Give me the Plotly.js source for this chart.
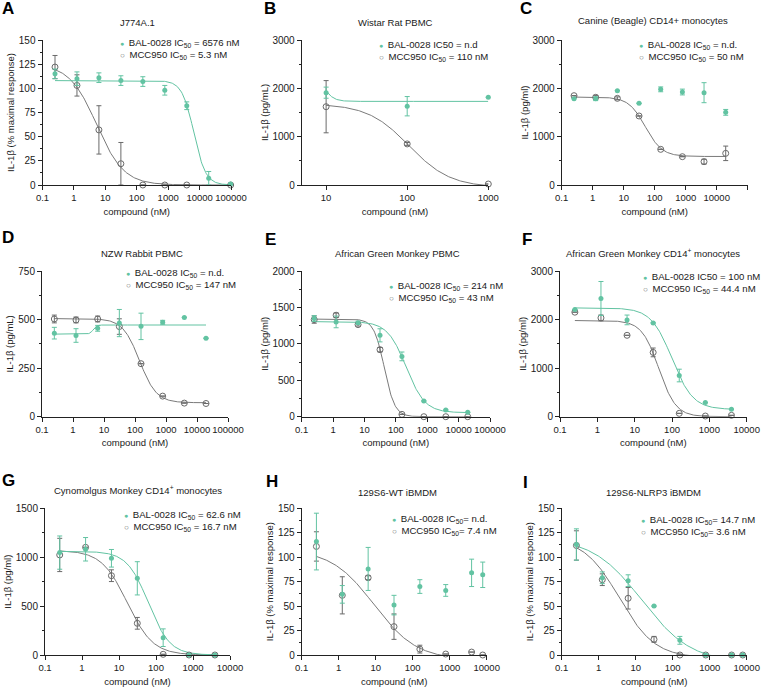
<!DOCTYPE html>
<html><head><meta charset="utf-8">
<script src="https://cdn.plot.ly/plotly-3.0.1.min.js"></script>
<style>html,body{margin:0;padding:0;background:#fff}#plot{width:763px;height:688px}</style>
</head><body><div id="plot"></div>
<script>
// ---------- DATA ----------
const xTickVals = [0.1, 1, 10, 100, 1000, 10000, 100000];
const xTickText = ["0.1", "1", "10", "100", "1000", "10000", "100000"];

// A  J774A.1
const doseA = [0.25, 1.25, 6.25, 31.25, 156.25, 781.25, 3906.25, 19531.25, 97656.25];
const balA = [115, 110, 111, 108, 107, 98, 82, 7, 1];
const balErrA = [5, 7, 5, 5, 5, 5, 4, 7, 1];
const mccA = [122, 103, 57, 22, 0, 0, 0, null, 0];
const mccErrA = [12, 11, 25, 22, null, null, null, null, null];
const fitBalA = [108, 0, 6576, 2.3];   // top, bottom, IC50, hill
const fitMccA = [125, 0, 5.3, 1.0];

// B  Wistar Rat PBMC
const doseB = [10, 100, 1000];
const balB = [1910, 1630, 1815];
const balErrB = [115, 200, null];
const mccB = [1620, 850, 20];
const mccErrB = [540, 30, null];
const fitBalB = [2400, 1730, 9, 6.8];
const fitMccB = [1680, -50, 105, 1.7];

// C  Canine (Beagle) CD14+ monocytes
const doseC = [0.25, 1.25, 6.25, 31.25, 156.25, 781.25, 3906.25, 19531.25];
const balC = [1786, 1786, 1952, 1690, 1979, 1924, 1910, 1503];
const balErrC = [null, 40, null, null, 50, 60, 207, 60];
const mccC = [1848, 1814, 1793, 1428, 738, 586, 483, 655];
const mccErrC = [null, 40, 30, null, null, null, 50, 150];
const fitBalC = null;
const fitMccC = [1820, 590, 50, 1.61];

// D  NZW Rabbit PBMC
const doseD = [0.25, 1.25, 6.25, 31.25, 156.25, 781.25, 3906.25, 19531.25];
const balD = [430, 418, 455, 482, 465, 486, 511, 404];
const balErrD = [30, 35, 15, 70, 68, 10, null, null];
const mccD = [503, 498, 503, 464, 273, 106, 70, 68];
const mccErrD = [20, 15, 15, 40, null, null, null, null];
const fitBalD = [425, 472, 4.5, 8];
const fitMccD = [505, 72, 140, 1.6];

// E  African Green Monkey PBMC
const doseE = [0.25, 1.25, 6.25, 31.25, 156.25, 781.25, 3906.25, 19531.25];
const balE = [1347, 1301, 1290, 1117, 828, 216, 92, 60];
const balErrE = [40, 80, 20, 90, 60, null, null, null];
const mccE = [1333, 1393, 1264, 920, 32, 0, 0, 0];
const mccErrE = [50, 30, 20, 30, null, null, null, null];
const fitBalE = [1305, 55, 214, 1.45];
const fitMccE = [1340, 0, 43, 2.6];

// F  African Green Monkey CD14+ monocytes
const doseF = [0.25, 1.25, 6.25, 31.25, 156.25, 781.25, 3906.25];
const balF = [2207, 2434, 1993, 1931, 848, 290, 152];
const balErrF = [null, 350, 100, null, 130, null, null];
const mccF = [2152, 2034, 1676, 1324, 69, 14, 28];
const mccErrF = [null, 60, null, 90, null, null, null];
const fitBalF = [2240, 150, 100, 1.55];
const fitMccF = [1980, 0, 44.4, 1.9];

// G  Cynomolgus Monkey CD14+ monocytes
const doseG = [0.25, 1.25, 6.25, 31.25, 156.25, 781.25, 3906.25];
const balG = [1047, 1081, 989, 784, 177, 0, 0];
const balErrG = [170, 120, 90, 170, 90, null, null];
const mccG = [1023, 1101, 811, 324, 7, 0, 0];
const mccErrG = [170, null, 60, 60, null, null, null];
const fitBalG = [1060, 0, 62.6, 1.5];
const fitMccG = [1070, 0, 16.7, 1.25];

// H  129S6-WT iBMDM
const doseH = [0.25, 1.25, 6.25, 31.25, 156.25, 781.25, 3906.25, 7812.5];
const balH = [116, 62, 88, 51, 70, 66, 84, 82];
const balErrH = [29, 9, 22, 10, 7, 6, 14, 13];
const mccH = [111, 61, 79, 29, 6, 1, 3, 0];
const mccErrH = [15, 19, 2, 13, 4, null, null, null];
const fitBalH = null;
const fitMccH = [108, -5, 9, 0.75];

// I  129S6-NLRP3 iBMDM
const doseI = [0.25, 1.25, 6.25, 31.25, 156.25, 781.25, 3906.25, 7812.5];
const balI = [113, 79, 76, 50, 15, 0, 0, 0];
const balErrI = [16, 6, 6, null, 4, null, null, null];
const mccI = [112, 77, 58, 16, 0, 0, 0, 0];
const mccErrI = [15, 6, 11, 3, null, null, null, null];
const fitBalI = [120, -8, 14.7, 0.65];
const fitMccI = [120, -3, 3.6, 0.9];

const letters = ["A", "B", "C", "D", "E", "F", "G", "H", "I"];
const titles = [
  "J774A.1", "Wistar Rat PBMC", "Canine (Beagle) CD14+ monocytes",
  "NZW Rabbit PBMC", "African Green Monkey PBMC", "African Green Monkey CD14<sup>+</sup> monocytes",
  "Cynomolgus Monkey CD14<sup>+</sup> monocytes", "129S6-WT iBMDM", "129S6-NLRP3 iBMDM"
];
const yTitles = [
  "IL-1β (% maximal response)", "IL-1β (pg/mL)", "IL-1β (pg/ml)",
  "IL-1β (pg/mL)", "IL-1β (pg/ml)", "IL-1β (pg/ml)",
  "IL-1β (pg/ml)", "IL-1β (% maximal response)", "IL-1β (% maximal response)"
];
const balLabels = [
  "BAL-0028 IC<sub>50</sub> = 6576 nM", "BAL-0028 IC50 = n.d", "BAL-0028 IC<sub>50</sub> = n.d.",
  "BAL-0028 IC<sub>50</sub> = n.d.", "BAL-0028 IC<sub>50</sub> = 214 nM", "BAL-0028 IC50 = 100 nM",
  "BAL-0028 IC<sub>50</sub> = 62.6 nM", "BAL-0028 IC<sub>50</sub>= n.d.", "BAL-0028 IC<sub>50</sub>= 14.7 nM"
];
const mccLabels = [
  "MCC950 IC<sub>50</sub> = 5.3 nM", "MCC950 IC<sub>50</sub> = 110 nM", "MCC950 IC<sub>50</sub> = 50 nM",
  "MCC950 IC<sub>50</sub> = 147 nM", "MCC950 IC<sub>50</sub> = 43 nM", "MCC950 IC<sub>50</sub> = 44.4 nM",
  "MCC950 IC<sub>50</sub> = 16.7 nM", "MCC950 IC<sub>50</sub>= 7.4 nM", "MCC950 IC<sub>50</sub>= 3.6 nM"
];
const yMax = [150, 3000, 3000, 750, 2000, 3000, 1500, 150, 150];
const yMajor = [25, 1000, 1000, 250, 500, 1000, 500, 25, 25];
const yMinor = [12.5, 500, 500, 125, 250, 500, 250, 12.5, 12.5];
const xLogMin = [-1, 0.699, -1, -1, -1, -1, -1, -1, -1];
const xLogMax = [5, 3, 5, 5, 5, 4, 4, 4, 4];

// ---------- LAYOUT GEOMETRY (pixels) ----------
const W = 763, H = 688;
// [xLeft, xRight, yTop, yBottom] of each plot area
const boxes = [
  [42.5, 231, 40, 185], [301.7, 488.3, 40, 185], [561.7, 747.7, 40, 185],
  [42, 228, 271, 416.7], [301.7, 490, 271, 416.7], [560, 746.7, 271, 416.7],
  [45, 230, 508.3, 655], [301.7, 486.7, 508.3, 655], [561.7, 746.7, 508.3, 655]
];
const letterPos = [[8, 8], [270, 8], [526, 8], [8, 238], [270, 240], [527, 240], [8, 480], [272, 481], [525, 482]];
const titlePos = [[137, 23], [395, 22], [653, 21], [142, 253], [397, 253], [653, 253], [138, 490], [397, 492], [653, 492]];
const legendPos = [[118, 35], [377, 37], [637, 37], [124, 265], [387, 278], [641, 269], [122, 507], [390, 511], [639, 512]];

const TEAL = "#62c3a2";
const GRAY = "#6a6a6a";
const CURVE_GRAY = "#7a7a7a";
const FONT = "Liberation Sans, Arial, sans-serif";

const doses = [doseA, doseB, doseC, doseD, doseE, doseF, doseG, doseH, doseI];
const bals = [balA, balB, balC, balD, balE, balF, balG, balH, balI];
const balErrs = [balErrA, balErrB, balErrC, balErrD, balErrE, balErrF, balErrG, balErrH, balErrI];
const mccs = [mccA, mccB, mccC, mccD, mccE, mccF, mccG, mccH, mccI];
const mccErrs = [mccErrA, mccErrB, mccErrC, mccErrD, mccErrE, mccErrF, mccErrG, mccErrH, mccErrI];
const fitBals = [fitBalA, fitBalB, fitBalC, fitBalD, fitBalE, fitBalF, fitBalG, fitBalH, fitBalI];
const fitMccs = [fitMccA, fitMccB, fitMccC, fitMccD, fitMccE, fitMccF, fitMccG, fitMccH, fitMccI];

function fourPL(p, x) { return p[1] + (p[0] - p[1]) / (1 + Math.pow(x / p[2], p[3])); }
function fitCurve(p, x0, x1) {
  const xs = [], ys = [], n = 240;
  const l0 = Math.log10(x0), l1 = Math.log10(x1);
  for (let i = 0; i < n; i++) {
    const x = Math.pow(10, l0 + (l1 - l0) * i / (n - 1));
    xs.push(x); ys.push(fourPL(p, x));
  }
  return { xs, ys };
}

const data = [];
const layout = {
  width: W, height: H, margin: { l: 0, r: 0, t: 0, b: 0 },
  paper_bgcolor: "#fff", plot_bgcolor: "#fff", showlegend: false,
  font: { family: FONT, size: 10, color: "#1a1a1a" },
  annotations: []
};

for (let i = 0; i < 9; i++) {
  const k = i === 0 ? "" : String(i + 1);
  const xa = "x" + k, ya = "y" + k;
  const b = boxes[i];
  const d = doses[i];
  if (fitMccs[i]) {
    const c = fitCurve(fitMccs[i], d[0], d[d.length - 1]);
    data.push({ x: c.xs, y: c.ys, xaxis: xa, yaxis: ya, mode: "lines", line: { color: CURVE_GRAY, width: 1 }, hoverinfo: "skip" });
  }
  if (fitBals[i]) {
    const c = fitCurve(fitBals[i], d[0], d[d.length - 1]);
    data.push({ x: c.xs, y: c.ys, xaxis: xa, yaxis: ya, mode: "lines", line: { color: TEAL, width: 1 }, hoverinfo: "skip" });
  }
  data.push({
    x: d, y: mccs[i], xaxis: xa, yaxis: ya, mode: "markers", name: "MCC950",
    marker: { symbol: "circle-open", size: 6, color: GRAY, line: { width: 1, color: GRAY } },
    error_y: { type: "data", array: mccErrs[i], visible: true, color: GRAY, thickness: 1, width: 2.5 },
    cliponaxis: false
  });
  data.push({
    x: d, y: bals[i], xaxis: xa, yaxis: ya, mode: "markers", name: "BAL-0028",
    marker: { symbol: "circle", size: 5, color: TEAL },
    error_y: { type: "data", array: balErrs[i], visible: true, color: TEAL, thickness: 1, width: 2.5 },
    cliponaxis: false
  });

  // keep only ticks inside this panel's range
  const tv = [], tt = [];
  xTickVals.forEach((v, j) => {
    const lv = Math.log10(v);
    if (lv >= xLogMin[i] - 1e-9 && lv <= xLogMax[i] + 1e-9) { tv.push(v); tt.push(xTickText[j]); }
  });

  layout["xaxis" + k] = {
    type: "log", range: [xLogMin[i], xLogMax[i]], anchor: ya,
    domain: [b[0] / W, b[1] / W],
    tickvals: tv, ticktext: tt, tickangle: 0,
    showline: true, linecolor: "#222", linewidth: 1, ticks: "outside", ticklen: 4, tickcolor: "#222",
    showgrid: false, zeroline: false, tickfont: { size: 9.5 },
    title: { text: "compound (nM)", font: { size: 9.5 }, standoff: 5 }, automargin: false
  };
  layout["yaxis" + k] = {
    range: [0, yMax[i]], anchor: xa, domain: [1 - b[3] / H, 1 - b[2] / H],
    dtick: yMajor[i], tick0: 0,
    showline: true, linecolor: "#222", linewidth: 1, ticks: "outside", ticklen: 4, tickcolor: "#222",
    minor: { dtick: yMinor[i], ticks: "outside", ticklen: 2, tickcolor: "#222" },
    showgrid: false, zeroline: false, tickfont: { size: 10 },
    title: { text: yTitles[i], font: { size: 9.5 }, standoff: 2 }, automargin: false
  };

  layout.annotations.push({
    text: "<b>" + letters[i] + "</b>", xref: "paper", yref: "paper",
    x: letterPos[i][0] / W, y: 1 - letterPos[i][1] / H, xanchor: "center", yanchor: "middle",
    showarrow: false, font: { size: 17, color: "#000" }
  });
  layout.annotations.push({
    text: titles[i], xref: "paper", yref: "paper",
    x: titlePos[i][0] / W, y: 1 - titlePos[i][1] / H, xanchor: "center", yanchor: "middle",
    showarrow: false, font: { size: 9.5, color: "#1a1a1a" }
  });
  const gap = "\u00a0\u2009";
  layout.annotations.push({
    text: '<span style="color:' + TEAL + ';font-size:7px">●</span>' + gap + balLabels[i] +
      '<br><span style="color:' + GRAY + ';font-size:8px">○</span>' + gap + mccLabels[i],
    xref: "paper", yref: "paper", align: "left",
    x: legendPos[i][0] / W, y: 1 - legendPos[i][1] / H, xanchor: "left", yanchor: "top",
    showarrow: false, font: { size: 9.6, color: "#1a1a1a" }
  });
}

Plotly.newPlot("plot", data, layout, { staticPlot: true, displayModeBar: false });
</script>
</body></html>
